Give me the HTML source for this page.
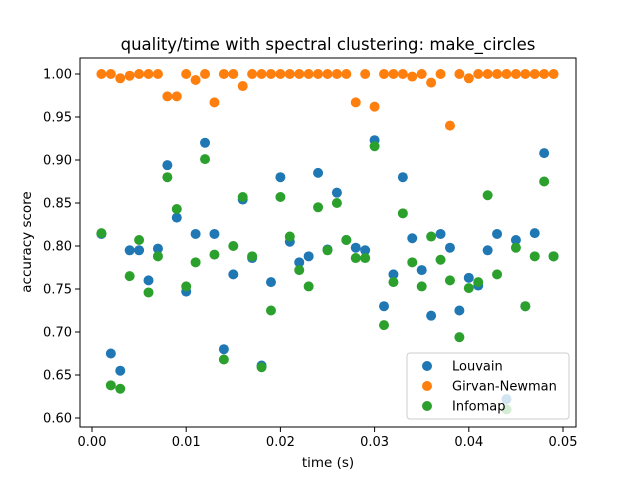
<!DOCTYPE html>
<html><head><meta charset="utf-8"><style>body{margin:0;background:#fff}svg{display:block;font-family:"DejaVu Sans","Liberation Sans",sans-serif}</style></head>
<body>
<svg id="c" width="640" height="480"></svg>
<script>
const louvain=[0.814,0.675,0.655,0.795,0.795,0.760,0.797,0.894,0.833,0.747,0.814,0.920,0.814,0.680,0.767,0.854,0.786,0.661,0.758,0.880,0.805,0.781,0.788,0.885,0.796,0.862,0.807,0.798,0.795,0.923,0.730,0.767,0.880,0.809,0.772,0.719,0.814,0.798,0.725,0.763,0.754,0.795,0.814,0.622,0.807,0.730,0.815,0.908,0.788];
const girvan=[1,1,0.995,0.998,1,1,1,0.974,0.974,1,0.993,1,0.967,1,1,0.986,1,1,1,1,1,1,1,1,1,1,1,0.967,1,0.962,1,1,1,0.997,1,0.990,1,0.940,1,0.995,1,1,1,1,1,1,1,1,1];
const infomap=[0.815,0.638,0.634,0.765,0.807,0.746,0.788,0.880,0.843,0.753,0.781,0.901,0.790,0.668,0.800,0.857,0.788,0.659,0.725,0.857,0.811,0.772,0.753,0.845,0.795,0.850,0.807,0.786,0.786,0.916,0.708,0.758,0.838,0.781,0.753,0.811,0.784,0.760,0.694,0.751,0.758,0.859,0.767,0.610,0.798,0.730,0.788,0.875,0.788];
const times=louvain.map((_,i)=>(i+1)/1000);
const xTicks=[0,0.01,0.02,0.03,0.04,0.05];
const xTickLabels=["0.00","0.01","0.02","0.03","0.04","0.05"];
const yTicks=[0.60,0.65,0.70,0.75,0.80,0.85,0.90,0.95,1.00];
const yTickLabels=["0.60","0.65","0.70","0.75","0.80","0.85","0.90","0.95","1.00"];
const NS="http://www.w3.org/2000/svg",svg=document.getElementById('c');
const L=80,R=576,T=58,B=427;
const xs=v=>92+v*9420;
const ys=v=>418-(v-0.6)*860;
function mk(t,a,p){const e=document.createElementNS(NS,t);for(const k in a)e.setAttribute(k,a[k]);(p||svg).appendChild(e);return e;}
function series(vals,color,name){const g=mk('g',{});
vals.forEach((v,i)=>{const c=mk('circle',{cx:xs(times[i]),cy:ys(v),r:5,fill:color},g);});}
series(louvain,'#1f77b4','louvain');series(girvan,'#ff7f0e','girvan-newman');series(infomap,'#2ca02c','infomap');
const fr=mk('rect',{x:L,y:T,width:R-L,height:B-T,fill:'none',stroke:'#000','stroke-width':1});

xTicks.forEach((v,i)=>{const x=xs(v);mk('line',{x1:x,x2:x,y1:B,y2:B+5,stroke:'#000'});const t=mk('text',{x:x,y:B+19,'font-size':13,'text-anchor':'middle'});t.textContent=xTickLabels[i];});
yTicks.forEach((v,i)=>{const y=ys(v);mk('line',{x1:L-5,x2:L,y1:y,y2:y,stroke:'#000'});const t=mk('text',{x:L-8,y:y+4.5,'font-size':13,'text-anchor':'end'});t.textContent=yTickLabels[i];});
</script>
<svg width="640" height="480" style="position:absolute;left:0;top:0;font-family:'DejaVu Sans','Liberation Sans',sans-serif">
<text x="328" y="50" font-size="16.5" text-anchor="middle">quality/time with spectral clustering: make_circles</text>
<text x="328" y="467" font-size="13.5" text-anchor="middle">time (s)</text>
<text transform="translate(31,242) rotate(-90)" font-size="13.5" text-anchor="middle">accuracy score</text>
<g>
<rect x="407" y="353" width="162" height="66" rx="3" fill="#fff" fill-opacity="0.8" stroke="#ccc"/>
<circle cx="427" cy="366" r="5" fill="#1f77b4"/><text x="452" y="370.5" font-size="13">Louvain</text>
<circle cx="427" cy="386" r="5" fill="#ff7f0e"/><text x="452" y="390.5" font-size="13">Girvan-Newman</text>
<circle cx="427" cy="406" r="5" fill="#2ca02c"/><text x="452" y="410.5" font-size="13">Infomap</text>
</g>
</svg>
</body></html>
